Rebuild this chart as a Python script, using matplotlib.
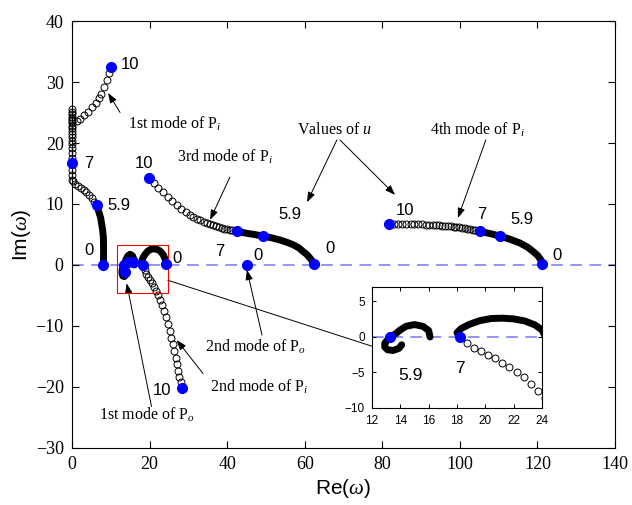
import matplotlib
matplotlib.use("Agg")
import matplotlib.pyplot as plt
from matplotlib.patches import Rectangle, ConnectionPatch, ArrowStyle

# ---- root loci, read as (Re, Im) pairs ----
# 1st mode of Pi
pi1_band_re = [8.1, 8.15, 8.1, 7.9, 7.4, 6.8, 6.4]
pi1_band_im = [0.0, 2.5, 4.5, 5.7, 7.7, 9.0, 9.8]
pi1_ring_re = [6.4, 5.8, 5.1, 4.4, 3.7, 3.0, 2.3, 1.6, 0.9, 0.3,
               0.0, 0.0, 0.0, 0.0, 0.0, 0.0, 0.0, 0.0, 0.0, 0.0, 0.0,
               0.0, 0.0, 0.0, 0.0, 0.0, 0.0, 0.0, 0.0, 0.0, 0.0,
               1.2, 2.1, 3.1, 4.2, 5.2, 6.2, 7.0, 7.6, 8.3, 9.1, 9.5]
pi1_ring_im = [9.8, 10.4, 11.0, 11.5, 11.9, 12.3, 12.7, 13.0, 13.3, 13.7,
               13.9, 14.7, 15.6, 16.7, 17.6, 18.4, 19.1, 19.8, 20.4, 21.0, 21.5,
               22.0, 22.4, 22.8, 23.2, 23.6, 23.9, 24.3, 24.7, 25.1, 25.5,
               23.6, 23.9, 24.6, 25.1, 25.9, 26.5, 27.3, 28.1, 29.1, 30.3, 31.4]
pi1_dot_re = [8.1, 6.4, 0.0, 10.0]
pi1_dot_im = [0.0, 9.8, 16.7, 32.5]

# 2nd mode of Pi
pi2_band_re = [24.2, 24.0, 23.5, 22.8, 22.0, 21.2, 20.4, 19.6, 18.9, 18.3, 18.0, 18.2]
pi2_band_im = [0.2, 1.0, 1.7, 2.25, 2.55, 2.65, 2.6, 2.3, 1.8, 1.2, 0.6, 0.0]
pi2_ring_re = [18.2, 18.7, 19.2, 19.7, 20.2, 20.7, 21.2, 21.7, 22.2, 22.7, 23.2, 23.7,
               24.2, 24.7, 25.2, 25.6, 26.0, 26.4, 26.8, 27.1, 27.4, 27.7, 28.0, 28.3]
pi2_ring_im = [0.0, -0.9, -1.5, -2.0, -2.5, -3.0, -3.6, -4.2, -4.9, -5.7, -6.6, -7.6,
               -8.6, -9.7, -10.8, -11.9, -13.0, -14.1, -15.2, -16.3, -17.3, -18.3, -19.2, -20.1]
pi2_dot_re = [24.2, 18.2, 28.3]
pi2_dot_im = [0.2, 0.0, -20.1]

# 3rd mode of Pi
pi3_ring_re = [19.9, 21.1, 22.3, 23.5, 24.7, 25.9, 27.1, 28.2, 29.3, 30.3, 31.3, 32.2, 33.1,
               34.0, 34.8, 35.6, 36.4, 37.2, 37.9, 38.6, 39.3, 40.0, 40.7, 41.3, 42.0, 42.6]
pi3_ring_im = [14.2, 13.4, 12.65, 11.95, 11.2, 10.45, 9.8, 9.2, 8.65, 8.25, 7.9, 7.6, 7.35,
               7.1, 6.9, 6.7, 6.5, 6.35, 6.2, 6.08, 5.97, 5.87, 5.77, 5.67, 5.58, 5.5]
pi3_band_re = [42.6, 45.0, 47.0, 49.2, 51.5, 53.6, 55.5, 57.1, 58.5, 59.6, 60.6, 61.4, 62.0, 62.5]
pi3_band_im = [5.5, 5.2, 5.0, 4.75, 4.45, 4.1, 3.7, 3.3, 2.8, 2.2, 1.7, 1.1, 0.6, 0.1]
pi3_dot_re = [19.9, 42.6, 49.2, 62.5]
pi3_dot_im = [14.2, 5.5, 4.75, 0.1]

# 4th mode of Pi
pi4_ring_re = [81.8, 82.9, 84.0, 85.1, 86.2, 87.3, 88.3, 89.3, 90.3, 91.2, 92.1, 93.0, 93.8,
               94.6, 95.4, 96.2, 97.0, 97.7, 98.4, 99.1, 99.8, 100.5, 101.2, 101.9, 102.6,
               103.3, 104.0, 104.6, 105.2]
pi4_ring_im = [6.8, 6.79, 6.78, 6.76, 6.74, 6.72, 6.7, 6.67, 6.64, 6.61, 6.58, 6.55, 6.52,
               6.49, 6.46, 6.42, 6.38, 6.34, 6.3, 6.25, 6.2, 6.13, 6.06, 5.98, 5.9,
               5.81, 5.72, 5.62, 5.5]
pi4_band_re = [105.2, 107.8, 110.3, 112.8, 115.5, 117.5, 118.9, 120.0, 120.6, 121.1, 121.3]
pi4_band_im = [5.5, 5.15, 4.75, 4.25, 3.6, 2.9, 2.2, 1.6, 1.1, 0.6, 0.2]
pi4_dot_re = [81.8, 105.2, 110.3, 121.3]
pi4_dot_im = [6.8, 5.5, 4.75, 0.2]

# 1st mode of Po
po1_band_re = [16.1, 16.0, 15.6, 15.0, 14.4, 14.0, 13.7, 13.4, 13.1, 12.9, 12.9, 13.1, 13.5, 13.9, 14.1]
po1_band_im = [0.0, 0.9, 1.5, 1.75, 1.5, 1.0, 0.5, 0.1, -0.4, -0.9, -1.4, -1.8, -1.9, -1.6, -1.1]
po1_dot_re = [15.8, 13.3, 13.7, 14.5]
po1_dot_im = [0.5, 0.0, -1.1, 0.5]

# 2nd mode of Po
po2_dot_re = [45.0]
po2_dot_im = [0.0]

# points shown in the zoomed window
inset_dot_re = [13.3, 18.2]
inset_dot_im = [0.0, 0.0]

# values of u written beside the loci: (text, Re, Im)
u_labels = [
    ("10", 15.0, 32.9), ("7", 4.2, 16.7), ("5.9", 12.2, 9.8), ("0", 4.5, 2.3),
    ("10", 18.6, 16.7), ("7", 38.2, 2.2), ("5.9", 56.2, 8.2), ("0", 66.5, 2.7),
    ("0", 48.0, 1.5), ("0", 27.0, 1.1), ("10", 23.1, -20.5),
    ("10", 85.8, 9.0), ("7", 105.6, 8.2), ("5.9", 115.9, 7.4), ("0", 125.0, 1.6),
]
inset_labels = [("5.9", 14.7, -5.4), ("7", 18.2, -4.4)]

BLUE = "#0000ff"
ZERO_COLOR = "#8282f5"
SANS = "Liberation Sans"

plt.rcParams.update({
    "font.family": "Liberation Serif",
    "mathtext.fontset": "custom",
    "mathtext.rm": "Liberation Serif",
    "mathtext.it": "Liberation Serif:italic",
    "xtick.direction": "in",
    "ytick.direction": "in",
    "xtick.top": True,
    "ytick.right": True,
    "axes.linewidth": 0.8,
})


def draw_loci(ax, clip):
    bands = [(pi1_band_re, pi1_band_im), (pi2_band_re, pi2_band_im),
             (pi3_band_re, pi3_band_im), (pi4_band_re, pi4_band_im),
             (po1_band_re, po1_band_im)]
    for re, im in bands:
        ax.plot(re, im, "-", color="k", lw=5, solid_capstyle="round",
                solid_joinstyle="round", zorder=3)
    rings = [(pi1_ring_re, pi1_ring_im), (pi2_ring_re, pi2_ring_im),
             (pi3_ring_re, pi3_ring_im), (pi4_ring_re, pi4_ring_im)]
    for re, im in rings:
        ax.plot(re, im, "o", ms=5, mfc="none", mec="k", mew=0.7,
                zorder=3, clip_on=clip)


fig = plt.figure(figsize=(6.32, 5.05), dpi=100)
ax = fig.add_axes([0.1139, 0.1129, 0.8592, 0.8455])

ax.axhline(0, color=ZERO_COLOR, lw=1.2, dashes=(7, 4.5), zorder=1)
draw_loci(ax, clip=False)
for re, im in [(pi1_dot_re, pi1_dot_im), (pi2_dot_re, pi2_dot_im), (pi3_dot_re, pi3_dot_im),
               (pi4_dot_re, pi4_dot_im), (po1_dot_re, po1_dot_im), (po2_dot_re, po2_dot_im)]:
    ax.plot(re, im, "o", ms=7, color=BLUE, mec=BLUE, zorder=5, clip_on=False)

for txt, x, y in u_labels:
    ax.text(x, y, txt, fontsize=12, family=SANS, ha="center", va="center")

ax.add_patch(Rectangle((11.6, -4.6), 13.1, 7.9, fill=False, ec="red", lw=0.8, zorder=4))

ax.set_xlim(0, 140)
ax.set_ylim(-30, 40)
ax.set_xticks(range(0, 141, 20))
ax.set_yticks(range(-30, 41, 10))
ax.tick_params(length=5, width=0.8, labelsize=13, pad=6)
ax.set_xlabel(r"Re($\omega$)", family=SANS, fontsize=15, labelpad=3)
ax.set_ylabel(r"Im($\omega$)", family=SANS, fontsize=15, labelpad=2)

# mode annotations
arrow = ArrowStyle("-|>", head_length=0.6, head_width=0.22)
notes = [
    (r"1st mode of P$_{i}$", (14.4, 23.1), [((12.4, 25.0), (9.3, 28.2))]),
    (r"3rd mode of P$_{i}$", (27.1, 17.7), [((40.7, 14.4), (35.6, 7.4))]),
    (r"Values of $u$", (58.0, 22.1), [((68.3, 20.5), (60.6, 10.3)),
                                       ((69.1, 20.5), (83.3, 11.5))]),
    (r"4th mode of P$_{i}$", (92.3, 22.1), [((106.7, 20.5), (99.5, 7.7))]),
    (r"2nd mode of P$_{o}$", (34.3, -13.4), [((49.0, -11.5), (45.1, -0.8))]),
    (r"2nd mode of P$_{i}$", (35.6, -20.0), [((33.8, -17.8), (27.0, -12.3))]),
    (r"1st mode of P$_{o}$", (7.0, -24.6), [((20.5, -23.2), (14.1, -3.0))]),
]
for txt, pos, arrows in notes:
    ax.text(pos[0], pos[1], txt, fontsize=11.5, ha="left", va="center")
    for start, end in arrows:
        ax.annotate("", xy=end, xytext=start,
                    arrowprops=dict(arrowstyle=arrow, color="k", lw=0.7,
                                    mutation_scale=10, shrinkA=0, shrinkB=0))

# zoomed window around the 1st mode of Po
axin = fig.add_axes([0.5886, 0.1921, 0.2690, 0.2390])
axin.axhline(0, color=ZERO_COLOR, lw=1.2, dashes=(7, 4.5), zorder=1)
draw_loci(axin, clip=True)
axin.plot(inset_dot_re, inset_dot_im, "o", ms=7, color=BLUE, mec=BLUE, zorder=5)
for txt, x, y in inset_labels:
    axin.text(x, y, txt, fontsize=12.5, family=SANS, ha="center", va="center")
axin.set_xlim(12, 24)
axin.set_ylim(-10, 7)
axin.set_xticks(range(12, 25, 2))
axin.set_yticks([-10, -5, 0, 5])
axin.tick_params(length=3, width=0.7, labelsize=8.5, pad=5)
for lab in axin.get_xticklabels() + axin.get_yticklabels():
    lab.set_family(SANS)

con = ConnectionPatch(xyA=(24.7, -2.5), coordsA=ax.transData,
                      xyB=(12, -1.3), coordsB=axin.transData,
                      color="k", lw=0.7)
fig.add_artist(con)

fig.savefig("out.png", dpi=100)
